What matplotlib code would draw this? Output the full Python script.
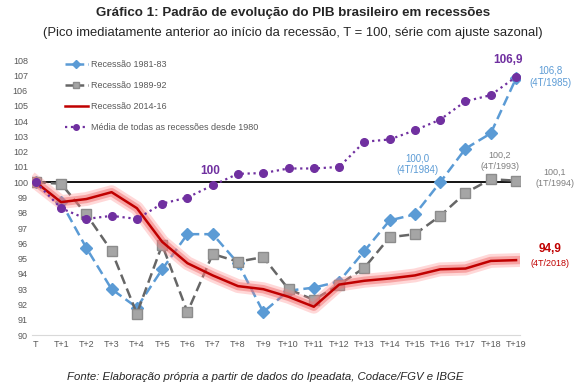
import numpy as np
import matplotlib
matplotlib.use("Agg")
import matplotlib.pyplot as plt
import matplotlib.patheffects as pe
from matplotlib.lines import Line2D

plt.rcParams['font.family'] = ['Liberation Sans', 'DejaVu Sans']

# dados (T = 100)
periodos = ['T'] + ['T+%d' % i for i in range(1, 20)]
rec_1981 = [100, 98.7, 95.7, 93.0, 91.8, 94.3, 96.6, 96.6, 94.7, 91.5,
            92.9, 93.1, 93.5, 95.5, 97.5, 97.9, 100.0, 102.2, 103.2, 106.8]
rec_1989 = [100, 99.9, 97.9, 95.5, 91.4, 95.9, 91.5, 95.3, 94.8, 95.1,
            93.0, 92.3, 93.3, 94.4, 96.4, 96.6, 97.8, 99.3, 100.2, 100.1]
rec_2014 = [100, 98.7, 98.9, 99.35, 98.3, 96.1, 94.7, 93.9, 93.2, 93.0,
            92.5, 91.85, 93.3, 93.55, 93.7, 93.9, 94.3, 94.35, 94.85, 94.9]
media = [100, 98.3, 97.6, 97.8, 97.6, 98.6, 99.0, 99.8, 100.55, 100.6,
         100.9, 100.9, 101.0, 102.65, 102.8, 103.4, 104.1, 105.3, 105.7, 106.9]
nomes = ['Recessão 1981-83', 'Recessão 1989-92', 'Recessão 2014-16',
         'Média de todas as recessões desde 1980']

azul = '#5B9BD5'
cinza = '#7F7F7F'
vermelho = '#C00000'
roxo = '#7030A0'

x = np.arange(len(periodos))

fig = plt.figure(figsize=(5.86, 3.92), dpi=100)
ax = fig.add_axes([0.0546, 0.1454, 0.8325, 0.7015])

ax.axhline(100, color='black', lw=1.3, zorder=1)

ax.plot(x, rec_1981, '--', color=azul, lw=1.8, marker='D', ms=6.5,
        dashes=(4, 2), zorder=3)
ax.plot(x, rec_1989, '--', color='#666666', lw=1.8, marker='s', ms=7,
        mfc='#A5A5A5', mec='#8C8C8C', dashes=(4, 2), zorder=3)
ax.plot(x, rec_2014, '-', color=vermelho, lw=1.8, zorder=4,
        path_effects=[pe.Stroke(linewidth=10, foreground='#FF8080', alpha=0.3),
                      pe.Stroke(linewidth=6, foreground='#F07070', alpha=0.5),
                      pe.Normal()])
ax.plot(x, media, ':', color=roxo, lw=1.6, marker='o', ms=5.5, zorder=5)

ax.set_xlim(-0.15, 19.15)
ax.set_ylim(90, 108)
ax.set_yticks(range(90, 109))
ax.set_xticks(x)
ax.set_xticklabels(periodos)
ax.tick_params(axis='both', length=0, labelsize=6.5, labelcolor='#595959')
ax.tick_params(axis='y', pad=3)
for s in ['top', 'right', 'left']:
    ax.spines[s].set_visible(False)
ax.spines['bottom'].set_color('#D9D9D9')

handles = [
    Line2D([], [], color=azul, lw=1.8, ls='--', dashes=(3, 1.5), marker='D', ms=4),
    Line2D([], [], color='#666666', lw=1.8, ls='--', dashes=(3, 1.5), marker='s', ms=5,
           mfc='#A5A5A5', mec='#8C8C8C'),
    Line2D([], [], color=vermelho, lw=1.8),
    Line2D([], [], color=roxo, lw=1.6, ls=':', marker='o', ms=4),
]
leg = ax.legend(handles, nomes, loc='upper left', bbox_to_anchor=(0.05, 1.03),
                frameon=False, fontsize=6.5, labelspacing=1.35,
                handlelength=2.6, handletextpad=0.3)
for t in leg.get_texts():
    t.set_color('#595959')

# rótulos
def rot(xi, yi, txt, dx, dy, cor, **kw):
    ax.annotate(txt, (xi, yi), xytext=(dx, dy), textcoords='offset pixels',
                ha='center', va='center', color=cor, linespacing=1.3, **kw)

rot(7, media[7], '100', -3, 14, roxo, fontsize=8.5, fontweight='bold')
rot(19, media[19], '106,9', -8, 17, roxo, fontsize=8.5, fontweight='bold')
rot(19, rec_1981[19], '106,8\n(4T/1985)', 34, 2, azul, fontsize=7)
rot(16, rec_1981[16], '100,0\n(4T/1984)', -23, 18, azul, fontsize=7)
rot(18, rec_1989[18], '100,2\n(4T/1993)', 9, 18, cinza, fontsize=6.5)
rot(19, rec_1989[19], '100,1\n(1T/1994)', 39, 3, cinza, fontsize=6.5)
rot(19, rec_2014[19], '94,9', 34, 11, vermelho, fontsize=8.5, fontweight='bold')
rot(19, rec_2014[19], '(4T/2018)', 34, -3, vermelho, fontsize=6.5)

fig.text(0.5, 0.968, 'Gráfico 1: Padrão de evolução do PIB brasileiro em recessões',
         ha='center', va='center', fontsize=9.6, fontweight='bold', color='#262626')
fig.text(0.5, 0.916, '(Pico imediatamente anterior ao início da recessão, T = 100, série com ajuste sazonal)',
         ha='center', va='center', fontsize=9.4, color='#262626')
fig.text(0.452, 0.038, 'Fonte: Elaboração própria a partir de dados do Ipeadata, Codace/FGV e IBGE',
         ha='center', va='center', fontsize=8.2, style='italic', color='#262626')

fig.savefig('out.png', dpi=100)
